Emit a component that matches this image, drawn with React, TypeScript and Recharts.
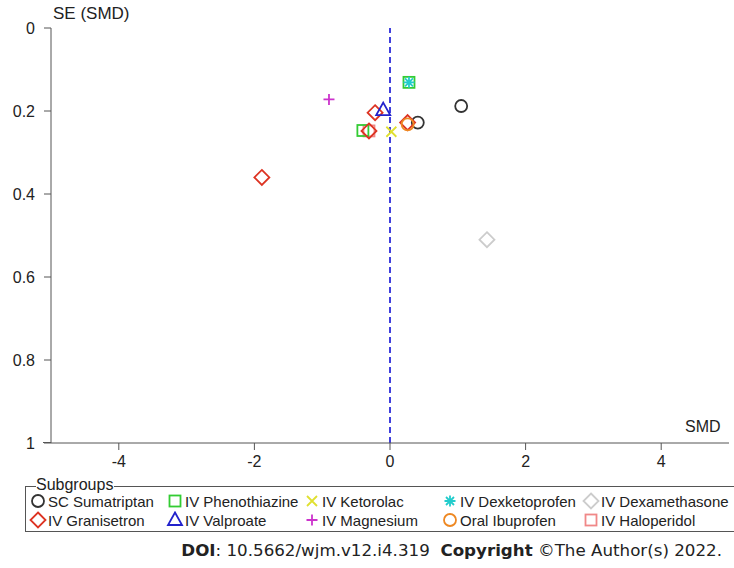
import React from 'react';
import { ScatterChart, Scatter, XAxis, YAxis, ReferenceLine } from 'recharts';

// funnel plot points: x = SMD, y = SE(SMD)
const scSumatriptan = [{ x: 1.05, y: 0.188 }, { x: 0.41, y: 0.228 }];
const ivPhenothiazine = [{ x: 0.28, y: 0.131 }, { x: -0.4, y: 0.247 }];
const ivKetorolac = [{ x: 0.02, y: 0.25 }];
const ivDexketoprofen = [{ x: 0.28, y: 0.131 }];
const ivDexamethasone = [{ x: 1.43, y: 0.51 }];
const ivGranisetron = [{ x: -1.89, y: 0.36 }, { x: -0.22, y: 0.204 }, { x: -0.31, y: 0.248 }, { x: 0.26, y: 0.228 }];
const ivValproate = [{ x: -0.1, y: 0.198 }];
const ivMagnesium = [{ x: -0.9, y: 0.172 }];
const oralIbuprofen = [{ x: 0.26, y: 0.232 }];
const ivHaloperidol = [{ x: -0.31, y: 0.248 }];

const xTicks = [-4, -2, 0, 2, 4];
const yTicks = [0, 0.2, 0.4, 0.6, 0.8, 1];

type Kind = 'circle' | 'square' | 'x' | 'asterisk' | 'diamond' | 'triangle' | 'plus';

const groups: { name: string; kind: Kind; color: string; data: { x: number; y: number }[] }[] = [
  { name: 'SC Sumatriptan', kind: 'circle', color: '#333333', data: scSumatriptan },
  { name: 'IV Phenothiazine', kind: 'square', color: '#33cc33', data: ivPhenothiazine },
  { name: 'IV Ketorolac', kind: 'x', color: '#e0e030', data: ivKetorolac },
  { name: 'IV Dexketoprofen', kind: 'asterisk', color: '#22cccc', data: ivDexketoprofen },
  { name: 'IV Dexamethasone', kind: 'diamond', color: '#cccccc', data: ivDexamethasone },
  { name: 'IV Granisetron', kind: 'diamond', color: '#dd3322', data: ivGranisetron },
  { name: 'IV Valproate', kind: 'triangle', color: '#2222cc', data: ivValproate },
  { name: 'IV Magnesium', kind: 'plus', color: '#cc33cc', data: ivMagnesium },
  { name: 'Oral Ibuprofen', kind: 'circle', color: '#ee8822', data: oralIbuprofen },
  { name: 'IV Haloperidol', kind: 'square', color: '#f08888', data: ivHaloperidol },
];

// draw order so overlaps look like the original
const drawOrder = [9, 1, 3, 4, 7, 0, 5, 8, 6, 2];

const Marker = ({ kind, color, cx, cy }: { kind: Kind; color: string; cx: number; cy: number }) => {
  const s = { fill: 'none', stroke: color, strokeWidth: 1.8 };
  switch (kind) {
    case 'circle':
      return <circle cx={cx} cy={cy} r={6} {...s} />;
    case 'square':
      return <rect x={cx - 5.5} y={cy - 5.5} width={11} height={11} {...s} />;
    case 'diamond':
      return <path d={`M${cx},${cy - 7.5}L${cx + 7.5},${cy}L${cx},${cy + 7.5}L${cx - 7.5},${cy}Z`} {...s} />;
    case 'triangle':
      return <path d={`M${cx},${cy - 7.5}L${cx + 7},${cy + 5}L${cx - 7},${cy + 5}Z`} {...s} />;
    case 'x':
      return <path d={`M${cx - 5},${cy - 5}L${cx + 5},${cy + 5}M${cx + 5},${cy - 5}L${cx - 5},${cy + 5}`} {...s} />;
    case 'plus':
      return <path d={`M${cx - 5.5},${cy}L${cx + 5.5},${cy}M${cx},${cy - 5.5}L${cx},${cy + 5.5}`} {...s} />;
    case 'asterisk':
      return (
        <path
          d={`M${cx - 5.5},${cy}L${cx + 5.5},${cy}M${cx},${cy - 5.5}L${cx},${cy + 5.5}M${cx - 4},${cy - 4}L${cx + 4},${cy + 4}M${cx + 4},${cy - 4}L${cx - 4},${cy + 4}`}
          {...s}
        />
      );
  }
  return null;
};

const font = '"Liberation Sans", Arial, sans-serif';
const axisColor = '#555555';

const LegendItem = ({ g }: { g: (typeof groups)[number] }) => (
  <div style={{ display: 'flex', alignItems: 'center', height: 20 }}>
    <svg width={18} height={18} style={{ marginRight: 1 }}>
      <Marker kind={g.kind} color={g.color} cx={9} cy={9} />
    </svg>
    <span>{g.name}</span>
  </div>
);

const legendCols = [37, 174, 311, 449, 590];

const App: React.FC = () => {
  return (
    <div style={{ position: 'absolute', left: 0, top: 0, width: 734, height: 568, background: '#fff', fontFamily: font, color: '#222' }}>
      <ScatterChart width={734} height={568} margin={{ top: 28, right: 5, bottom: 0, left: 0 }}>
        <XAxis
          type="number"
          dataKey="x"
          domain={[-5, 5]}
          ticks={xTicks}
          height={125}
          tickSize={7}
          tickMargin={6}
          stroke={axisColor}
          tick={{ fill: '#222', fontSize: 16, fontFamily: font }}
          allowDataOverflow
        />
        <YAxis
          type="number"
          dataKey="y"
          domain={[0, 1]}
          ticks={yTicks}
          reversed
          width={51}
          tickSize={7}
          tickMargin={9}
          stroke={axisColor}
          tick={{ fill: '#222', fontSize: 16, fontFamily: font }}
        />
        <ReferenceLine x={0} stroke="#4040dd" strokeWidth={2} strokeDasharray="6 4" />
        {drawOrder.map(i => {
          const g = groups[i];
          return (
            <Scatter
              key={g.name}
              name={g.name}
              data={g.data}
              isAnimationActive={false}
              shape={(p: any) => <Marker kind={g.kind} color={g.color} cx={p.cx} cy={p.cy} />}
            />
          );
        })}
      </ScatterChart>

      {/* little stub where x axis runs past the y axis */}
      <div style={{ position: 'absolute', left: 43, top: 442, width: 8, height: 1, background: axisColor }} />

      <div style={{ position: 'absolute', left: 53, top: 4, fontSize: 17 }}>SE (SMD)</div>
      <div style={{ position: 'absolute', left: 685, top: 418, fontSize: 16 }}>SMD</div>

      <div
        style={{
          position: 'absolute',
          left: 25,
          top: 486,
          width: 720,
          height: 44,
          border: `1px solid ${axisColor}`,
          fontSize: 15,
        }}
      >
        <div style={{ position: 'absolute', left: 10, top: -11, background: '#fff', paddingRight: 1, fontSize: 16 }}>Subgroups</div>
        {groups.map((g, i) => (
          <div key={g.name} style={{ position: 'absolute', left: legendCols[i % 5] - 25 - 9, top: i < 5 ? 4 : 23 }}>
            <LegendItem g={g} />
          </div>
        ))}
      </div>

      <div
        style={{
          position: 'absolute',
          right: 12,
          top: 540,
          fontSize: 16.7,
          whiteSpace: 'pre',
          fontFamily: '"DejaVu Sans", Verdana, sans-serif',
        }}
      >
        <b>DOI</b>: 10.5662/wjm.v12.i4.319  <b>Copyright</b> ©The Author(s) 2022.
      </div>
    </div>
  );
};

export default App;
